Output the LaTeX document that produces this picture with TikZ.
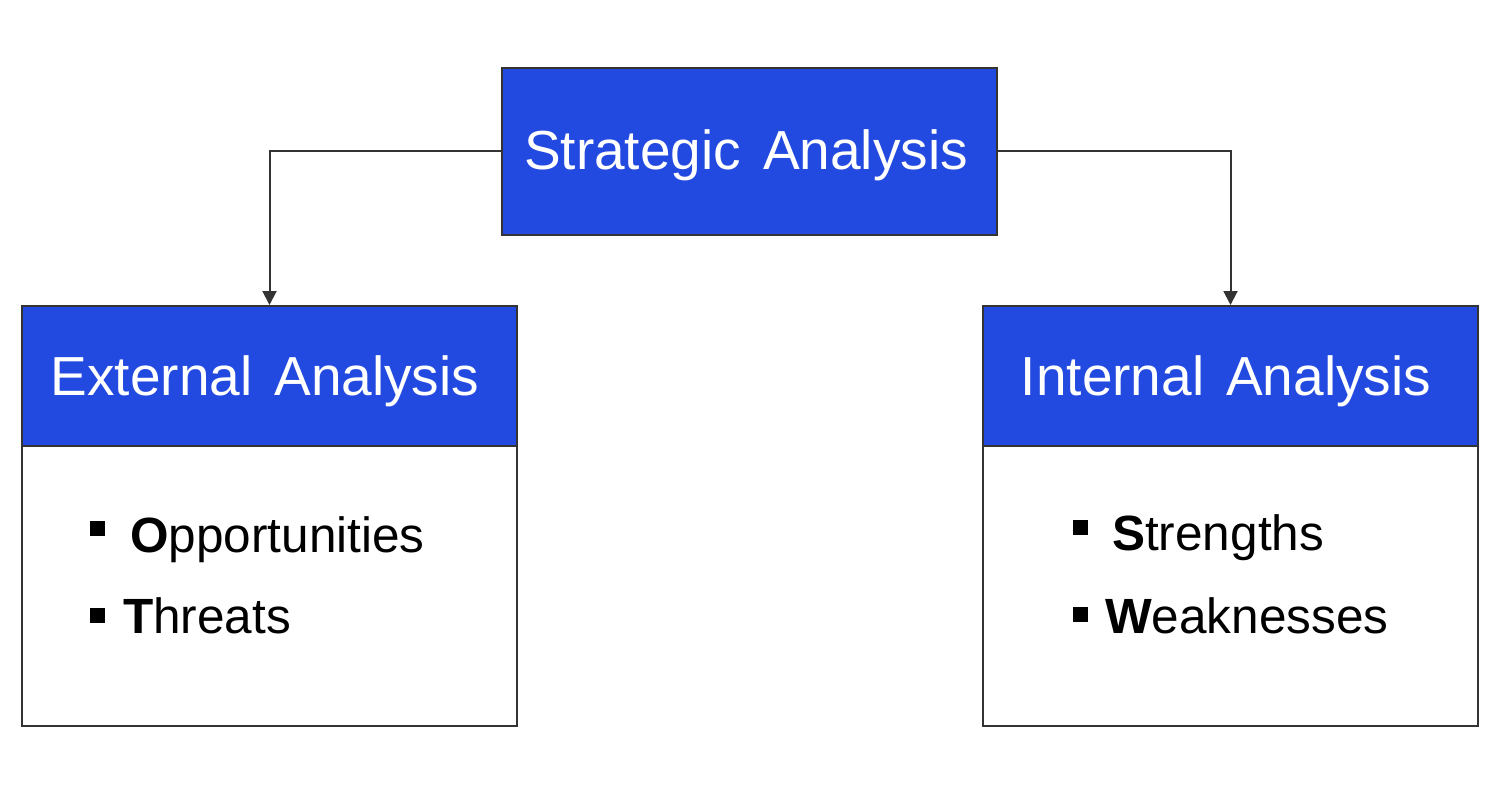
\documentclass[tikz,border=0pt]{standalone}
\usepackage{fontspec}
\setmainfont{Liberation Sans}
\usetikzlibrary{arrows.meta}
\definecolor{boxblue}{HTML}{234AE0}
\definecolor{edge}{HTML}{333333}
\tikzset{
  bluebox/.style={draw=edge, line width=2pt, fill=boxblue, rectangle, minimum width=495pt, inner sep=0pt},
  whitebox/.style={draw=edge, line width=1.6pt, fill=white, rectangle, minimum width=495pt, inner sep=0pt},
  headtext/.style={text=white, anchor=base, inner sep=0pt, font=\fontsize{55}{60}\selectfont},
  itemtext/.style={text=black, anchor=base west, inner sep=0pt, font=\fontsize{49.5}{54}\selectfont},
  conn/.style={draw=edge, line width=2pt, -{Triangle[width=14pt,length=14pt]}}
}
\newcommand{\sqbul}[2]{\rule[#1]{#2}{#2}}
\begin{document}
\begin{tikzpicture}[x=1pt,y=-1pt]
\useasboundingbox (0,0) rectangle (1490,786);
\fill[white] (0,0) rectangle (1490,786);
% boxes
\node[bluebox, minimum height=167pt] (top) at (749.5,151.5) {};
\node[whitebox, minimum height=281pt] (lbody) at (269.5,585.5) {};
\node[bluebox, minimum height=140pt] (lhead) at (269.5,376) {};
\node[whitebox, minimum height=281pt] (rbody) at (1230.5,585.5) {};
\node[bluebox, minimum height=140pt] (rhead) at (1230.5,376) {};
% titles
\node[headtext] (toptxt) at (746,170) {Strategic\hspace{0.4em}Analysis};
\node[headtext] (ltxt) at (265,395) {External\hspace{0.4em}Analysis};
\node[headtext] (rtxt) at (1226,395) {Internal\hspace{0.4em}Analysis};
% items
\node[itemtext] (opp) at (90,552) {\sqbul{16pt}{15pt}\hspace{25pt}\textbf{O}pportunities};
\node[itemtext] (thr) at (90,633) {\sqbul{10pt}{15pt}\hspace{18pt}\textbf{T}hreats};
\node[itemtext] (str) at (1073,550) {\sqbul{15pt}{15pt}\hspace{24pt}\textbf{S}trengths};
\node[itemtext] (wea) at (1073,633) {\sqbul{11pt}{15pt}\hspace{17pt}\textbf{W}eaknesses};
% connectors
\draw[conn] (top.west) -| (lhead.north);
\draw[conn] (top.east) -| (rhead.north);
\end{tikzpicture}
\end{document}
